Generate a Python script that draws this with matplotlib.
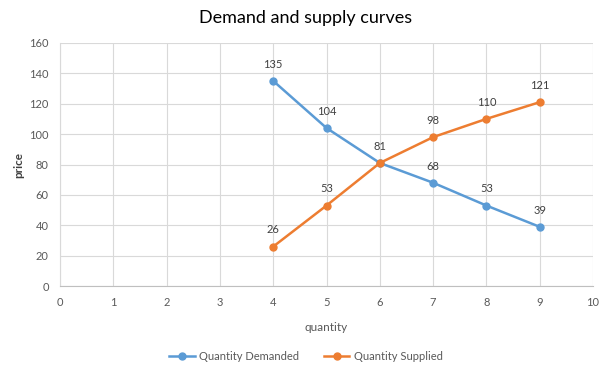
import matplotlib
matplotlib.use("Agg")
import matplotlib.pyplot as plt

quantity = [4, 5, 6, 7, 8, 9]
demanded = [135, 104, 81, 68, 53, 39]
supplied = [26, 53, 81, 98, 110, 121]
x_ticks = list(range(0, 11))
y_ticks = list(range(0, 161, 20))

plt.rcParams['font.family'] = ['Lato', 'DejaVu Sans']
txt = '#595959'
blue = '#5B9BD5'
orange = '#ED7D31'

fig = plt.figure(figsize=(6.12, 3.76), dpi=100)
ax = fig.add_axes([0.098, 0.239, 0.871, 0.647])

ax.plot(quantity, demanded, color=blue, lw=1.8, marker='o', ms=5, label='Quantity Demanded', zorder=3)
ax.plot(quantity, supplied, color=orange, lw=1.8, marker='o', ms=5, label='Quantity Supplied', zorder=3)

seen = set()
for series in (demanded, supplied):
    for x, y in zip(quantity, series):
        if (x, y) in seen:
            continue
        seen.add((x, y))
        ax.annotate(str(y), (x, y), xytext=(0, 8), textcoords='offset points', ha='center', va='bottom',
                    fontsize=8, color='#404040')

ax.set_xlim(0, 10)
ax.set_ylim(0, 160)
ax.set_xticks(x_ticks)
ax.set_yticks(y_ticks)
ax.grid(True, color='#D9D9D9', lw=0.8)
ax.set_axisbelow(True)
for s in ['top', 'right']:
    ax.spines[s].set_visible(False)
ax.spines['left'].set_color('#D9D9D9')
ax.spines['bottom'].set_color('#BFBFBF')
ax.tick_params(length=0, labelsize=8, colors=txt, pad=8)

ax.set_xlabel('quantity', fontsize=8.5, color=txt, labelpad=10)
ax.set_ylabel('price', fontsize=8.5, color='#404040', labelpad=4, fontweight='bold')
fig.text(0.5, 0.952, 'Demand and supply curves', ha='center', va='center', fontsize=13, color='#000000')

fig.legend(loc='center', bbox_to_anchor=(0.5, 0.053), ncol=2, frameon=False, fontsize=8, labelcolor=txt,
           handlelength=2.3, handletextpad=0.4, columnspacing=2.2)

fig.savefig('out.png', dpi=100)
